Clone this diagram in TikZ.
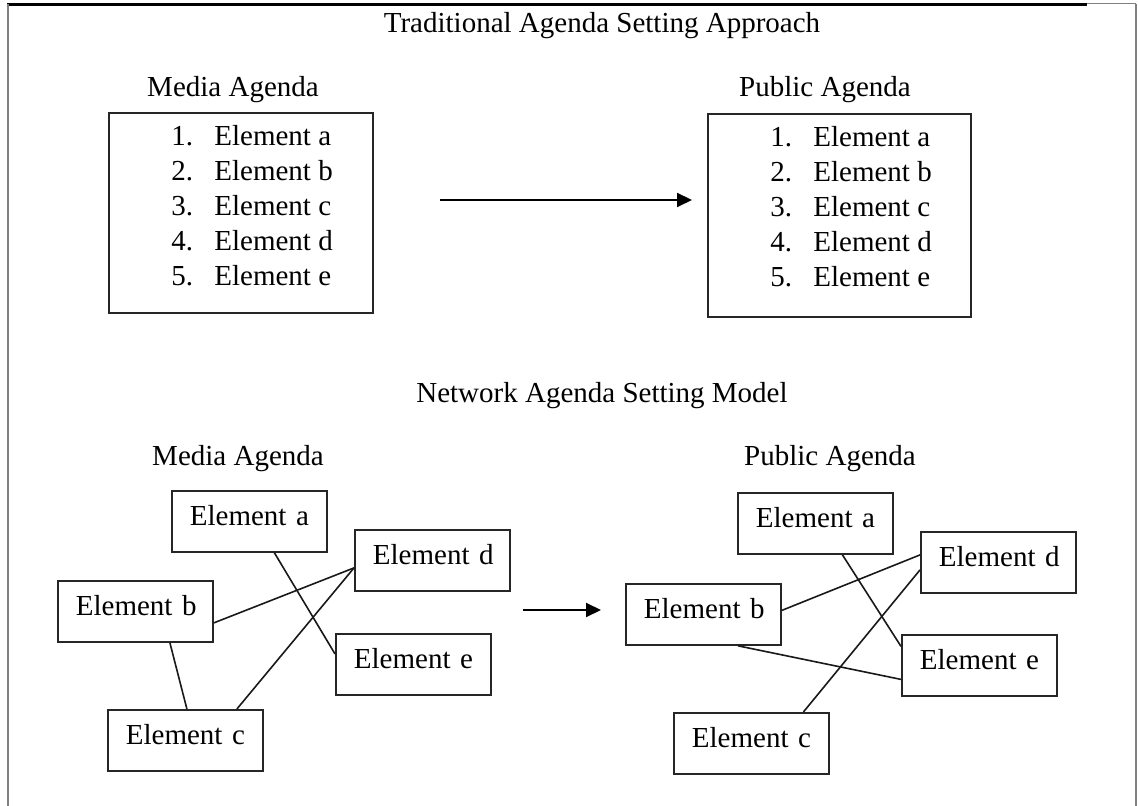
\documentclass[tikz,border=0pt]{standalone}
\usepackage{fontspec}
\setmainfont{Liberation Serif}
\usepackage{tikz}
\usetikzlibrary{arrows.meta}

\begin{document}
\begin{tikzpicture}[
    x=0.5pt, y=-0.5pt,
    font=\fontsize{14.5}{17.5}\selectfont,
    arrow/.style={-{Triangle[length=7.5pt, width=7pt]}, line width=1pt},
    link/.style={line width=0.8pt, black!90},
    listbox/.style={draw=black!85, line width=0.9pt, anchor=north west, minimum width=132pt, inner sep=0pt},
    listitem/.style={anchor=base west, inner sep=0pt},
    elembox/.style={draw=black!85, line width=0.9pt, anchor=north west, align=left,
        inner xsep=9pt, inner ysep=0pt, text width=59.5pt, text height=17.5pt, text depth=13pt},
    heading/.style={anchor=base, inner sep=0pt}
]
    \useasboundingbox (0,0) rectangle (1138,806);

    % === Frame ===
    \draw[line width=1.5pt] (7,5) -- (1087,5);
    \draw[gray, line width=0.5pt] (1087,4) -- (1136,4);
    \draw[gray, line width=1pt] (8,4) -- (8,806);
    \draw[gray, line width=1pt] (1135.5,4) -- (1135.5,806);

    % === Traditional Approach ===
    \node[heading] (tradtitle) at (602,33) {Traditional Agenda Setting Approach};
    \node[heading] (tradmedialbl) at (233,97) {Media Agenda};
    \node[heading] (tradpubliclbl) at (825,97) {Public Agenda};

    % Lists
    \node[listbox, minimum height=100pt] (tradmedia) at (108,112) {};
    \node[listbox, minimum height=101.5pt, minimum width=131.5pt] (tradpublic) at (707,113) {};
    \foreach \n/\l [count=\i from 0] in {1/a, 2/b, 3/c, 4/d, 5/e} {
        \node[listitem] (mitem\n) at (171,146+35*\i) {\makebox[21.5pt][l]{\n.}Element \l};
        \node[listitem] (pitem\n) at (770,147+35*\i) {\makebox[21.5pt][l]{\n.}Element \l};
    }

    % Arrow
    \coordinate (topfrom) at (440,200);
    \coordinate (topto) at (692,200);
    \draw[arrow] (topfrom) -- (topto);

    % === Network Model ===
    \node[heading] (nettitle) at (602,402) {Network Agenda Setting Model};
    \node[heading] (netmedialbl) at (238,465) {Media Agenda};
    \node[heading] (netpubliclbl) at (830,465) {Public Agenda};

    % Media network
    \node[elembox] (ma) at (171,490) {\mbox{Element a}};
    \node[elembox] (md) at (354,529) {\mbox{Element d}};
    \node[elembox] (mb) at (57,580) {\mbox{Element b}};
    \node[elembox] (me) at (335,633) {\mbox{Element e}};
    \node[elembox] (mc) at (107,709) {\mbox{Element c}};

    \draw[link] ([xshift=12.5pt]ma.south) -- ([yshift=5.25pt]me.west);
    \draw[link] ([yshift=-5.75pt]mb.east) -- ([yshift=-3.75pt]md.west);
    \draw[link] ([yshift=-3.75pt]md.west) -- ([xshift=25.75pt]mc.north);
    \draw[link] ([xshift=17.25pt]mb.south) -- ([xshift=0.75pt]mc.north);

    % Arrow
    \coordinate (netfrom) at (523,610);
    \coordinate (netto) at (601,610);
    \draw[arrow] (netfrom) -- (netto);

    % Public network
    \node[elembox] (pa) at (737,492) {\mbox{Element a}};
    \node[elembox] (pd) at (920,531) {\mbox{Element d}};
    \node[elembox] (pb) at (625,583) {\mbox{Element b}};
    \node[elembox] (pe) at (901,634) {\mbox{Element e}};
    \node[elembox] (pc) at (673,712) {\mbox{Element c}};

    \draw[link] ([xshift=13.5pt]pa.south) -- ([yshift=9.5pt]pe.west);
    \draw[link] ([yshift=2pt]pb.east) -- ([yshift=3.75pt]pd.west);
    \draw[link] ([yshift=-3.75pt]pd.west) -- ([xshift=26pt]pc.north);
    \draw[link] ([xshift=17.25pt]pb.south) -- ([yshift=-7pt]pe.west);

\end{tikzpicture}
\end{document}
